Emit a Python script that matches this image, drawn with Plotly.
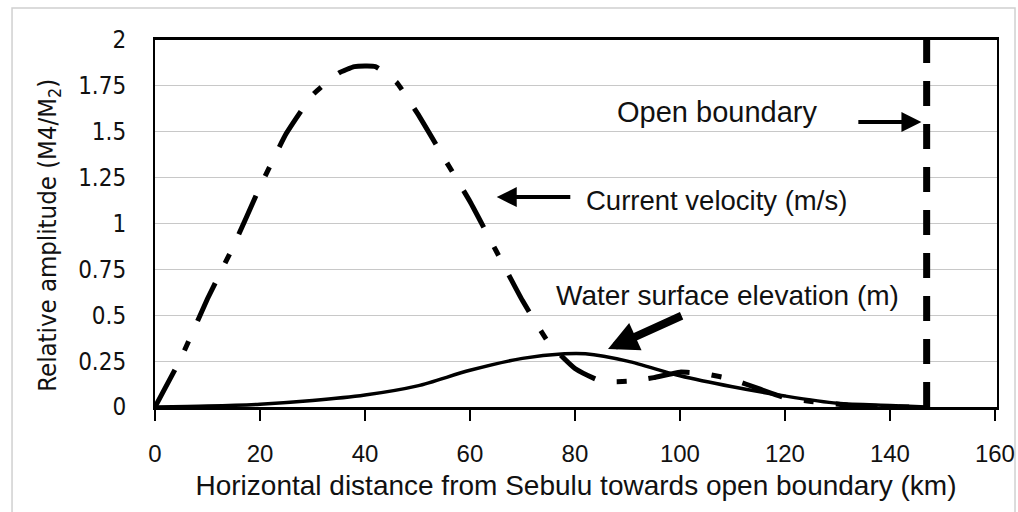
import plotly.graph_objects as go

# Data
vel_km = [0, 5, 10, 15, 20, 25, 30, 35, 38, 42, 46, 50, 55, 60, 65, 70, 75, 80, 85, 90, 95, 100, 105, 110, 115, 120, 125, 132, 140, 147]
vel = [0, 0.27, 0.59, 0.88, 1.20, 1.49, 1.70, 1.82, 1.855, 1.855, 1.77, 1.60, 1.36, 1.12, 0.85, 0.58, 0.35, 0.21, 0.14, 0.14, 0.16, 0.19, 0.18, 0.15, 0.10, 0.05, 0.03, 0.01, 0.0, 0.0]

wse_km = [0, 10, 20, 30, 40, 50, 60, 70, 78, 82, 90, 100, 110, 120, 130, 140, 147]
wse = [0, 0.005, 0.015, 0.035, 0.065, 0.115, 0.20, 0.265, 0.29, 0.29, 0.25, 0.17, 0.11, 0.06, 0.02, 0.008, 0.0]

boundary_km = 147
boundary_y = [0, 2]

x_ticks = [0, 20, 40, 60, 80, 100, 120, 140, 160]
y_ticks = [0, 0.25, 0.5, 0.75, 1, 1.25, 1.5, 1.75, 2]
y_tick_text = ["0", "0.25", "0.5", "0.75", "1", "1.25", "1.5", "1.75", "2"]

narrow = "DejaVu Sans Condensed"
sans = "Liberation Sans"

fig = go.Figure()
fig.add_trace(go.Scatter(x=vel_km, y=vel, mode="lines",
                         line=dict(color="black", width=5, dash="42px,22px,10px,22px", shape="spline", smoothing=0.4),
                         name="Current velocity"))
fig.add_trace(go.Scatter(x=wse_km, y=wse, mode="lines",
                         line=dict(color="black", width=3.5, shape="spline", smoothing=0.8),
                         name="Water surface elevation"))
fig.add_trace(go.Scatter(x=[boundary_km, boundary_km], y=boundary_y, mode="lines",
                         line=dict(color="black", width=7, dash="25px,18px"),
                         name="Open boundary"))

# Text annotations
fig.add_annotation(x=107, y=1.608, text="Open boundary", showarrow=False,
                   font=dict(family=sans, size=29, color="#111"))
fig.add_annotation(x=107, y=1.128, text="Current velocity (m/s)", showarrow=False,
                   font=dict(family=sans, size=27.5, color="#111"))
fig.add_annotation(x=109, y=0.61, text="Water surface elevation (m)", showarrow=False,
                   font=dict(family=sans, size=28, color="#111"))

# Y axis title (placed as rotated text)
fig.add_annotation(xref="paper", yref="paper", x=-0.126, y=0.469, xanchor="center", yanchor="middle",
                   text="Relative amplitude (M4/M<sub>2</sub>)", textangle=-90, showarrow=False,
                   font=dict(family=narrow, size=25.5, color="#111"))

# Arrows
fig.add_annotation(x=146.0, y=1.553, ax=133.7, ay=1.553, axref="x", ayref="y",
                   text="", showarrow=True, arrowhead=2, arrowwidth=4, arrowsize=1.0, arrowcolor="black")
fig.add_annotation(x=65.1, y=1.144, ax=79.4, ay=1.144, axref="x", ayref="y",
                   text="", showarrow=True, arrowhead=2, arrowwidth=4, arrowsize=1.0, arrowcolor="black")
fig.add_annotation(x=86.3, y=0.316, ax=100.6, ay=0.501, axref="x", ayref="y",
                   text="", showarrow=True, arrowhead=2, arrowwidth=8, arrowsize=0.75, arrowcolor="black")

# Outer light border
fig.add_shape(type="rect", xref="paper", yref="paper", x0=-0.1698, x1=1.0214, y0=-0.3, y1=1.087,
              line=dict(color="#d0d0d0", width=1.5), layer="below")

fig.update_layout(
    width=1018, height=512,
    margin=dict(l=155, r=21, t=40, b=105, autoexpand=False),
    plot_bgcolor="white", paper_bgcolor="white",
    showlegend=False,
    xaxis=dict(range=[0, 160.4], tickvals=x_ticks, ticks="outside", ticklen=11, tickwidth=2, tickcolor="black",
               showgrid=False, zeroline=False, showline=True, linecolor="black", linewidth=2.5, mirror=True,
               ticklabelstandoff=12, automargin=False,
               tickfont=dict(family=sans, size=24, color="#111"),
               title=dict(text="Horizontal distance from Sebulu towards open boundary (km)",
                          font=dict(family=sans, size=28, color="#111"), standoff=10)),
    yaxis=dict(range=[0, 2], tickvals=y_ticks, ticktext=y_tick_text, ticks="",
               showgrid=True, gridcolor="#c8c8c8", gridwidth=1, zeroline=False,
               showline=True, linecolor="black", linewidth=2, mirror=True,
               ticklabelstandoff=22, automargin=False,
               tickfont=dict(family=narrow, size=24, color="#111")),
)

fig.write_html("out.html", config={"displayModeBar": False},
               post_script="document.body.style.margin='0';document.body.style.overflow='hidden';")
